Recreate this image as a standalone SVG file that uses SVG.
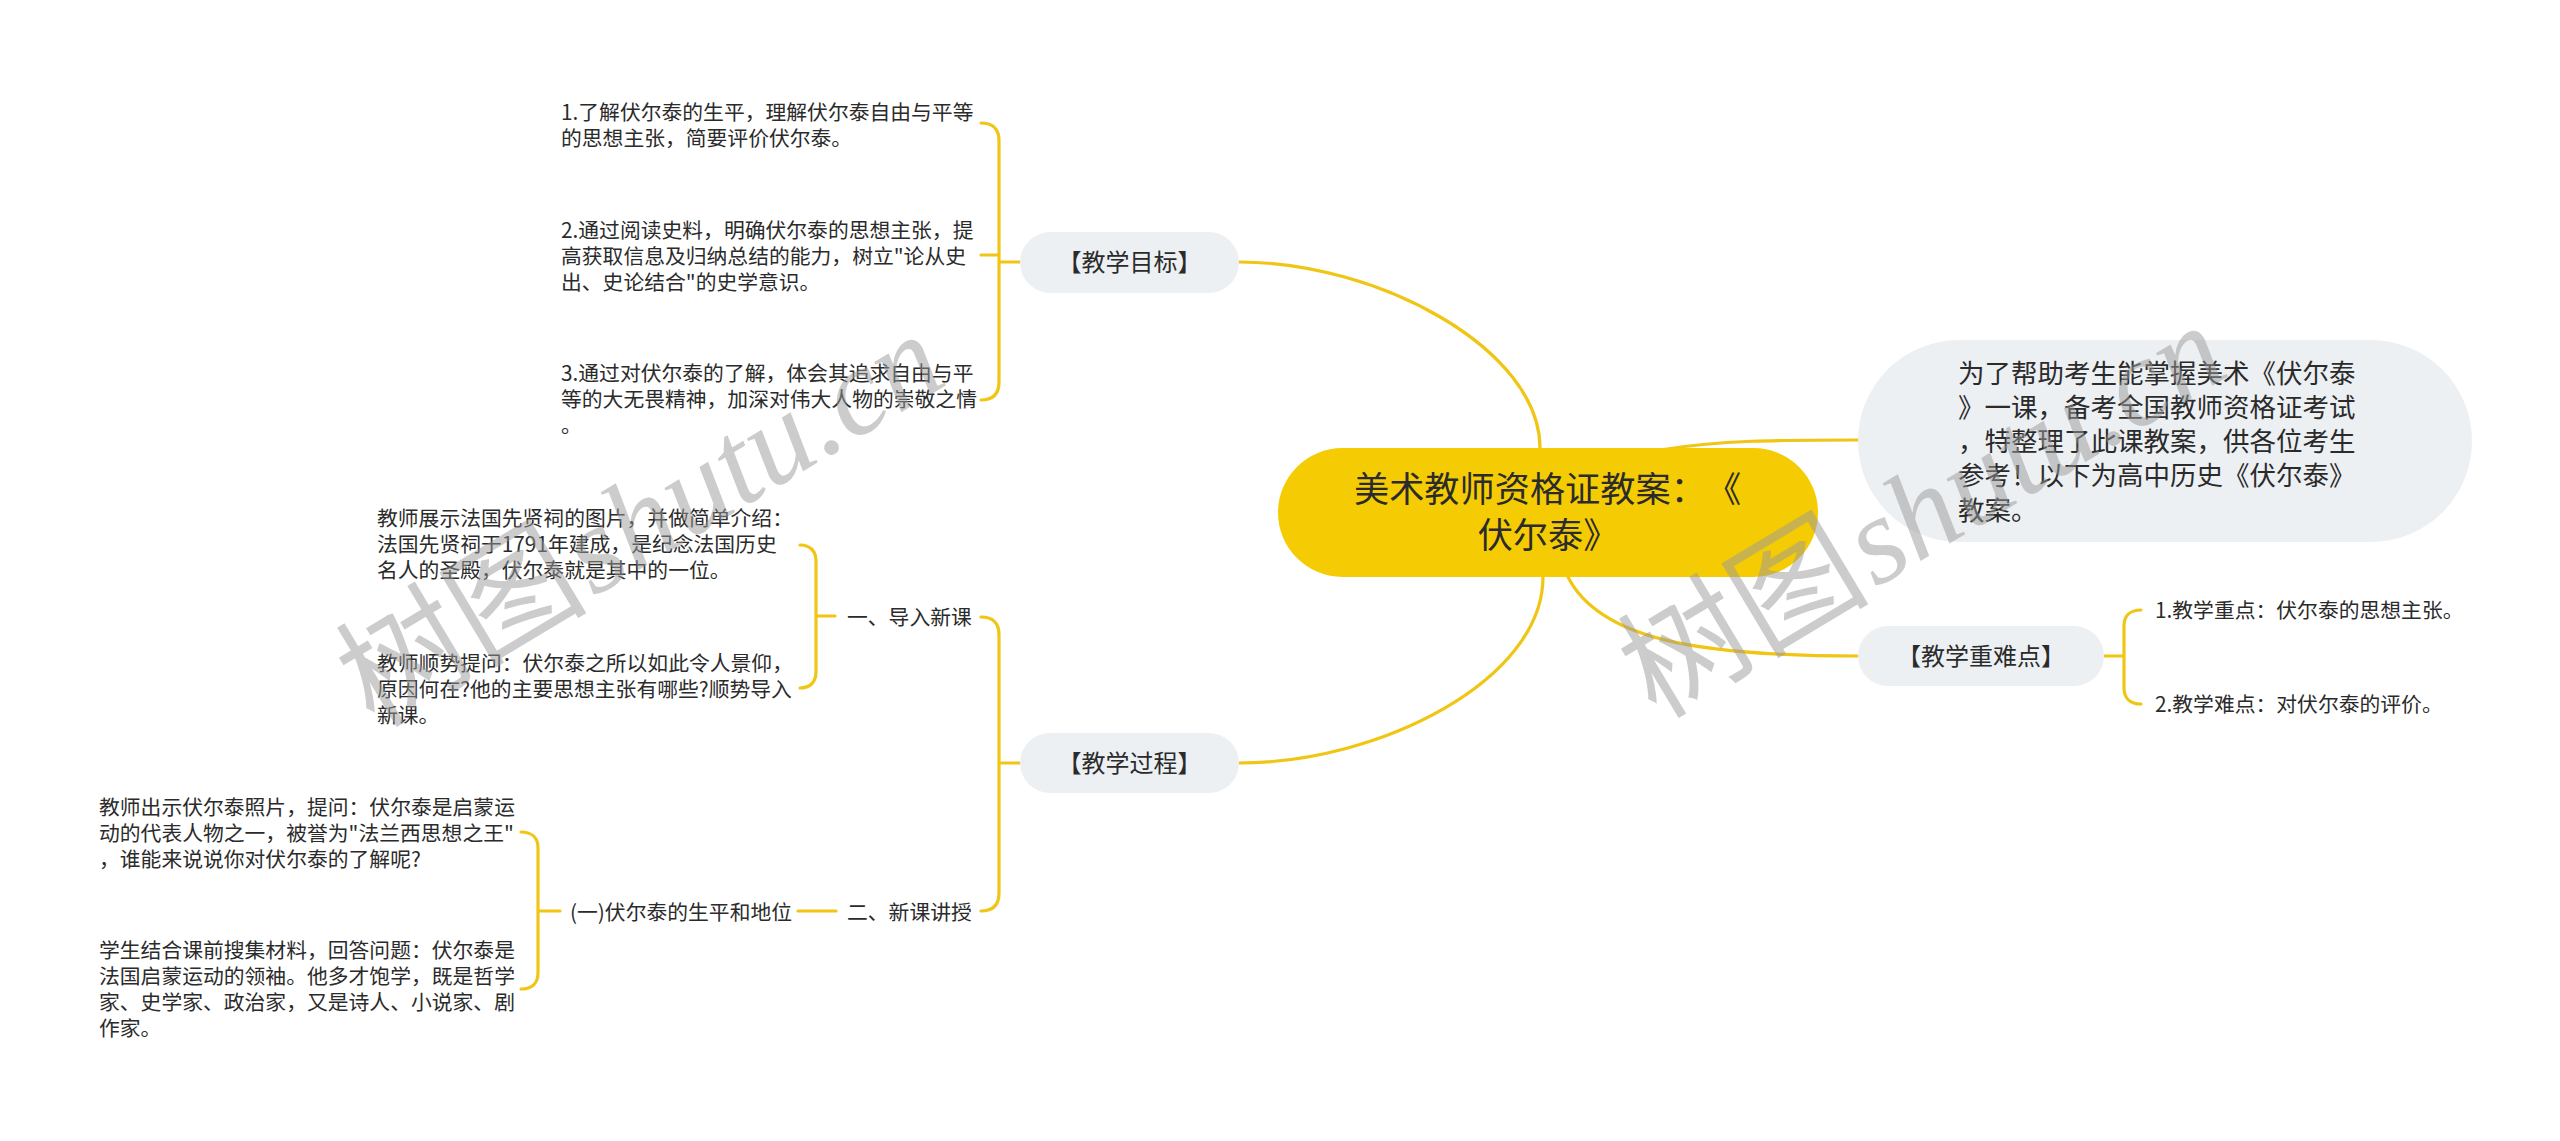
<svg xmlns="http://www.w3.org/2000/svg" width="2560" height="1141" viewBox="0 0 2560 1141">
<style>
.ln{fill:none;stroke:#F0C514;stroke-width:3.2;stroke-linecap:round}
.t{font-family:"Noto Sans CJK SC","Noto Sans",sans-serif;fill:#2b2b2b}
.s{font-size:20.8px}
.nd{fill:#EDF0F3}
.nt{font-size:24px;text-anchor:middle}
.wm{font-family:"Liberation Serif","Noto Sans CJK SC",serif;font-style:italic;font-size:124px;fill:#9a9a9a;opacity:0.5}
.wc{font-family:"Noto Sans CJK SC",sans-serif;font-style:normal;font-size:126px}
</style>
<rect width="2560" height="1141" fill="#ffffff"/>
<g id="connectors">
<path class="ln" d="M1239,262 C1380,262 1540,350 1540,448"/>
<path class="ln" d="M1239,763 C1380,763 1543,680 1543,577"/>
<path class="ln" d="M1568,577 C1600,640 1700,656 1858,656"/>
<path class="ln" d="M1660,450 C1720,440 1780,440 1858,440"/>
<path class="ln" d="M981,123 C993,123 999,129 999,141 L999,382 C999,394 993,400 981,400 M981,255 L999,255 M999,262 L1020,262"/>
<path class="ln" d="M800,545 C810,545 816,551 816,561 L816,672 C816,682 810,688 800,688 M816,616 L835,616"/>
<path class="ln" d="M981,617 C993,617 999,623 999,635 L999,893 C999,905 993,911 981,911 M999,763 L1020,763"/>
<path class="ln" d="M798,911 L836,911"/>
<path class="ln" d="M521,832 C532,832 538,838 538,848 L538,973 C538,983 532,989 521,989 M538,911 L560,911"/>
<path class="ln" d="M2141,610 C2130,610 2124,616 2124,626 L2124,688 C2124,698 2130,704 2141,704 M2104,656 L2124,656"/>
</g>
<g id="central">
<rect x="1278" y="448" width="540" height="129" rx="64.5" fill="#F5CC03"/>
<text class="t" font-size="35.2"><tspan x="1354" y="502">美术教师资格证教案：</tspan><tspan x="1706" y="502">《</tspan><tspan x="1548" y="548" text-anchor="middle">伏尔泰》</tspan></text>
</g>
<g id="summary">
<rect class="nd" x="1858" y="340" width="614" height="202" rx="101"/>
<text class="t" font-size="26.5"><tspan x="1958" y="383">为了帮助考生能掌握美术《伏尔泰</tspan><tspan x="1958" y="417">》一课，备考全国教师资格证考试</tspan><tspan x="1958" y="451">，特整理了此课教案，供各位考生</tspan><tspan x="1958" y="485">参考！以下为高中历史《伏尔泰》</tspan><tspan x="1958" y="520">教案。</tspan></text>
</g>
<g id="goal">
<rect class="nd" x="1020" y="232" width="219" height="61" rx="30.5"/>
<text class="t nt" x="1129.5" y="271">【教学目标】</text>
</g>
<g id="goal1"><text class="t s"><tspan x="561" y="120">1.了解伏尔泰的生平，理解伏尔泰自由与平等</tspan><tspan x="561" y="146">的思想主张，简要评价伏尔泰。</tspan></text></g>
<g id="goal2"><text class="t s"><tspan x="561" y="238">2.通过阅读史料，明确伏尔泰的思想主张，提</tspan><tspan x="561" y="264">高获取信息及归纳总结的能力，树立"论从史</tspan><tspan x="561" y="290">出、史论结合"的史学意识。</tspan></text></g>
<g id="goal3"><text class="t s"><tspan x="561" y="381">3.通过对伏尔泰的了解，体会其追求自由与平</tspan><tspan x="561" y="407">等的大无畏精神，加深对伟大人物的崇敬之情</tspan><tspan x="561" y="433">。</tspan></text></g>
<g id="process">
<rect class="nd" x="1020" y="733" width="219" height="60" rx="30"/>
<text class="t nt" x="1129.5" y="772">【教学过程】</text>
</g>
<g id="intro"><text class="t s" x="847" y="625">一、导入新课</text></g>
<g id="intro1"><text class="t s"><tspan x="377" y="526">教师展示法国先贤祠的图片，并做简单介绍：</tspan><tspan x="377" y="552">法国先贤祠于1791年建成，是纪念法国历史</tspan><tspan x="377" y="578">名人的圣殿，伏尔泰就是其中的一位。</tspan></text></g>
<g id="intro2"><text class="t s"><tspan x="377" y="671">教师顺势提问：伏尔泰之所以如此令人景仰，</tspan><tspan x="377" y="697">原因何在?他的主要思想主张有哪些?顺势导入</tspan><tspan x="377" y="723">新课。</tspan></text></g>
<g id="newlesson"><text class="t s" x="847" y="920">二、新课讲授</text></g>
<g id="life"><text class="t s" x="570" y="920">(一)伏尔泰的生平和地位</text></g>
<g id="life1"><text class="t s"><tspan x="99" y="815">教师出示伏尔泰照片，提问：伏尔泰是启蒙运</tspan><tspan x="99" y="841">动的代表人物之一，被誉为"法兰西思想之王"</tspan><tspan x="99" y="867">，谁能来说说你对伏尔泰的了解呢?</tspan></text></g>
<g id="life2"><text class="t s"><tspan x="99" y="958">学生结合课前搜集材料，回答问题：伏尔泰是</tspan><tspan x="99" y="984">法国启蒙运动的领袖。他多才饱学，既是哲学</tspan><tspan x="99" y="1010">家、史学家、政治家，又是诗人、小说家、剧</tspan><tspan x="99" y="1036">作家。</tspan></text></g>
<g id="keypoints">
<rect class="nd" x="1858" y="626" width="246" height="60" rx="30"/>
<text class="t nt" x="1981" y="665">【教学重难点】</text>
</g>
<g id="key1"><text class="t s" x="2155" y="618">1.教学重点：伏尔泰的思想主张。</text></g>
<g id="key2"><text class="t s" x="2155" y="712">2.教学难点：对伏尔泰的评价。</text></g>
<g id="watermark">
<text class="wm" transform="translate(374,729) rotate(-31)"><tspan class="wc">树图</tspan><tspan dx="4">shutu.cn</tspan></text>
<text class="wm" transform="translate(1656,720) rotate(-31)"><tspan class="wc">树图</tspan><tspan dx="4">shutu.cn</tspan></text>
</g>
</svg>
